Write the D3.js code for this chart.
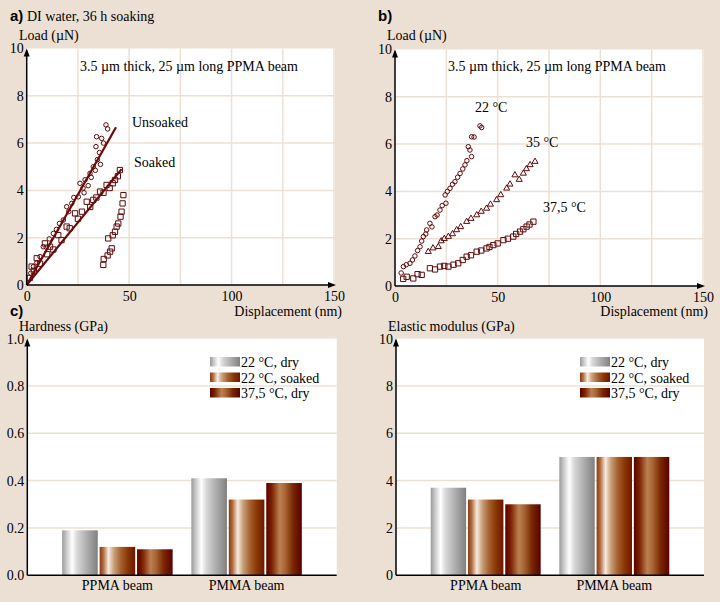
<!DOCTYPE html>
<html><head><meta charset="utf-8">
<script src="https://cdn.jsdelivr.net/npm/d3@7"></script>
<style>
body{margin:0;background:#ECE0D5;}
svg{display:block;}
text{font-family:"Liberation Serif","Times New Roman",serif;font-size:14px;fill:#000;}
</style></head>
<body>
<script>
// ---------- DATA ----------
const dispTicks = [0, 50, 100, 150];
const loadTicks = [0, 2, 4, 6, 8, 10];
const hardTicks = [0, 0.2, 0.4, 0.6, 0.8, 1.0];
const modTicks = [0, 2, 4, 6, 8, 10];

// panel a: displacement (nm), load (uN)
const unsoaked = [[2,0.5],[3.3,0.78],[5,0.95],[6.5,1.2],[8.1,1.62],[9.5,1.6],[11,1.95],[13,2.18],[14.5,2.35],[16,2.6],[17.9,2.75],[19.5,3.31],[20.5,3.1],[22,3.45],[23,3.7],[25.2,3.73],[26,4.3],[27.5,4.1],[28.5,4.45],[30.9,4.72],[31.5,4.55],[32.5,5.0],[33.5,4.85],[34.5,5.3],[33.8,5.85],[35.5,5.6],[36.6,6.2],[34.1,6.27],[37.5,6.0],[38.7,6.77],[39.5,6.6],[36,5.1],[30,4.2],[28,3.9]];
const soaked = [[1.5,0.3],[2.4,0.78],[3.5,0.6],[4.9,1.13],[6.5,0.9],[8.9,1.76],[10,1.3],[11.4,1.62],[13,1.5],[15.4,2.11],[17,1.9],[19.5,2.47],[21,2.4],[23.6,3.03],[25,2.8],[27,3.1],[29.3,3.52],[31,3.3],[32.5,3.6],[34,3.7],[35.8,3.95],[37.5,3.9],[39,4.23],[40.5,4.1],[42,4.3],[43.1,4.44],[44.5,4.6],[45.5,4.86]];
const soakedUnload = [[37.4,0.85],[37.6,1.1],[39.5,1.25],[40.7,1.41],[41.5,1.55],[39.8,1.97],[42,2.1],[43.1,2.25],[43.9,2.47],[44.7,2.6],[45.8,2.89],[46.3,3.1],[46.8,3.45],[47.2,3.8]];
const unsoakedFit = [[0,0],[43.6,6.67]];
const soakedFit = [[0,0],[46.3,4.9]];

// panel b
const t22 = [[3,0.55],[4.1,0.82],[5.5,0.9],[7.3,0.96],[8.5,1.1],[9.7,1.27],[11,1.5],[12.2,1.66],[13,1.9],[13.8,2.09],[15,2.2],[15.4,2.37],[17,2.65],[18,2.5],[19.5,2.93],[20.5,3.0],[21.9,3.21],[23,3.4],[24.8,3.5],[24.4,3.85],[25.5,4.0],[26.8,4.13],[28,4.3],[29.2,4.41],[30.5,4.6],[31.7,4.76],[33,4.95],[34.1,5.12],[35,5.3],[37.3,5.47],[36.5,5.75],[35.7,5.89],[37.3,6.31],[38.5,6.3],[41.4,6.77],[42.2,6.7]];
const t35 = [[16.2,1.45],[18.5,1.6],[21.1,1.66],[22.5,1.9],[24,2.0],[26,2.09],[28,2.2],[30,2.37],[32,2.5],[34.9,2.72],[37,2.85],[39.8,3.0],[42,3.15],[44.6,3.28],[46.5,3.45],[49.5,3.64],[51.5,3.85],[54.4,4.13],[56,4.3],[58.4,4.69],[60.5,4.5],[62.5,4.76],[64,4.95],[65.8,5.12],[68.2,5.26]];
const t375 = [[4,0.3],[5.7,0.39],[8.9,0.32],[11,0.5],[13,0.47],[17,0.75],[19.5,0.7],[21.9,0.82],[24,0.85],[26,0.82],[28.5,0.9],[30.8,0.96],[33,1.1],[34.9,1.24],[37,1.3],[39.8,1.45],[42,1.5],[44.6,1.59],[46,1.65],[47.9,1.73],[50,1.8],[52.8,1.94],[55,2.0],[57.6,2.09],[59,2.2],[60.9,2.3],[62.5,2.4],[64.1,2.51],[65.5,2.6],[67.4,2.72]];

// panels c, d
const beams = ["PPMA beam", "PMMA beam"];
const conditions = ["22 °C, dry", "22 °C, soaked", "37,5 °C, dry"];
const hardness = [[0.19, 0.12, 0.11], [0.41, 0.32, 0.39]];
const modulus = [[3.7, 3.2, 3.0], [5.0, 5.0, 5.0]];

// ---------- DRAW ----------
const W = 720, H = 602;
const FONT = "'Liberation Serif','Times New Roman',serif";
const svg = d3.select("body").append("svg").attr("width", W).attr("height", H);
svg.append("rect").attr("width", W).attr("height", H).attr("fill", "#ECE0D5");
const markColor = "#5E0A0A";
const gridColor = "#ECE0D5";

const defs = svg.append("defs");
function grad(id, stops) {
  const g = defs.append("linearGradient").attr("id", id).attr("x1", 0).attr("x2", 1).attr("y1", 0).attr("y2", 0);
  stops.forEach(s => g.append("stop").attr("offset", s[0]).attr("stop-color", s[1]));
}
grad("g0", [[0,"#9a9a9a"],[0.12,"#c8c8c8"],[0.28,"#ffffff"],[0.42,"#d8d8d8"],[0.62,"#b8b8b8"],[1,"#808080"]]);
grad("g1", [[0,"#8a3a10"],[0.1,"#b06a3a"],[0.25,"#f5ebe0"],[0.4,"#caa07a"],[0.6,"#a4602e"],[0.8,"#8a3400"],[1,"#6a1800"]]);
grad("g2", [[0,"#5a0000"],[0.15,"#7a2000"],[0.38,"#bc8050"],[0.52,"#a86838"],[0.75,"#7a2800"],[1,"#5a0000"]]);
const fills = ["url(#g0)", "url(#g1)", "url(#g2)"];

function arrowUp(g, x, y) {
  g.append("path").attr("d", `M${x},${y} L${x-3},${y+8} L${x+3},${y+8} Z`).attr("fill", "#000");
}
function arrowRight(g, x, y) {
  g.append("path").attr("d", `M${x},${y} L${x-8},${y-3} L${x-8},${y+3} Z`).attr("fill", "#000");
}

function text(x, y, s, opts = {}) {
  const t = svg.append("text").attr("x", x).attr("y", y).text(s);
  if (opts.anchor) t.attr("text-anchor", opts.anchor);
  if (opts.bold) t.attr("font-weight", "bold").style("font-family", "'Liberation Sans',Arial,sans-serif").style("font-size", "15px").attr("fill", "#6B0F0F");
  return t;
}
function styleTicks(sel) {
  sel.select(".domain").remove();
  sel.selectAll("text").style("font-family", FONT).style("font-size", "14px").attr("fill", "#000");
}

function scatterPanel(px0, px1, py0, py1, series) {
  const x = d3.scaleLinear().domain([0, 150]).range([px0, px1]);
  const y = d3.scaleLinear().domain([0, 10]).range([py0, py1]);
  svg.append("rect").attr("x", px0).attr("y", py1).attr("width", px1 - px0 + 1).attr("height", py0 - py1).attr("fill", "#fff");
  const g = svg.append("g");
  g.selectAll(".vg").data(d3.range(25, 151, 25)).join("line")
    .attr("x1", d => x(d)).attr("x2", d => x(d)).attr("y1", py1).attr("y2", py0)
    .attr("stroke", gridColor).attr("stroke-width", 1.5);
  g.selectAll(".hg").data([2, 4, 6, 8]).join("line")
    .attr("x1", px0).attr("x2", px1 + 1).attr("y1", d => y(d)).attr("y2", d => y(d))
    .attr("stroke", gridColor).attr("stroke-width", 1.5);
  series.forEach(s => {
    const sym = d3.symbol().type(s.type).size(s.size);
    g.append("g").selectAll("path").data(s.data).join("path")
      .attr("transform", d => `translate(${x(d[0])},${y(d[1])})`)
      .attr("d", sym).attr("fill", "none").attr("stroke", markColor).attr("stroke-width", 1);
  });
  const ya = svg.append("g").attr("transform", `translate(${px0},0)`)
    .call(d3.axisLeft(y).tickValues(loadTicks).tickSize(0).tickPadding(3).tickFormat(d3.format("d")));
  styleTicks(ya);
  const xa = svg.append("g").attr("transform", `translate(0,${py0})`)
    .call(d3.axisBottom(x).tickValues(dispTicks).tickSize(0).tickPadding(6).tickFormat(d3.format("d")));
  styleTicks(xa);
  svg.append("line").attr("x1", px0).attr("x2", px0).attr("y1", py0).attr("y2", py1 + 2).attr("stroke", "#000").attr("stroke-width", 1.5);
  svg.append("line").attr("x1", px0).attr("x2", px1).attr("y1", py0).attr("y2", py0).attr("stroke", "#000").attr("stroke-width", 1.5);
  arrowUp(svg, px0, py1);
  arrowRight(svg, px1 + 2, py0);
  return {x, y, g};
}

// Panel a
const A = scatterPanel(26.7, 334, 285, 48.5, [
  {data: unsoaked, type: d3.symbolCircle, size: 16},
  {data: soaked, type: d3.symbolSquare, size: 28},
  {data: soakedUnload, type: d3.symbolSquare, size: 28}
]);
const line = d3.line().x(d => A.x(d[0])).y(d => A.y(d[1]));
[unsoakedFit, soakedFit].forEach(f => {
  A.g.append("path").attr("d", line(f)).attr("fill", "none").attr("stroke", "#6B0A0A").attr("stroke-width", 2.2);
});
text(10, 21, "a)", {bold: true});
text(27, 21, "DI water, 36 h soaking");
text(19, 40, "Load (µN)");
text(80, 71, "3.5 µm thick, 25 µm long PPMA beam");
text(132, 127, "Unsoaked");
text(134, 167, "Soaked");
text(342, 316, "Displacement (nm)", {anchor: "end"});

// Panel b
scatterPanel(395, 703, 286, 49.5, [
  {data: t22, type: d3.symbolCircle, size: 16},
  {data: t35, type: d3.symbolTriangle, size: 16},
  {data: t375, type: d3.symbolSquare, size: 28}
]);
text(378, 21, "b)", {bold: true});
text(387, 40, "Load (µN)");
text(448, 71, "3.5 µm thick, 25 µm long PPMA beam");
text(475, 112, "22 °C");
text(526, 147, "35 °C");
text(543, 212, "37,5 °C");
text(708, 316, "Displacement (nm)", {anchor: "end"});

// Bar panels
function barPanel(px0, px1, py0, py1, vals, ticks, fmt, legendX) {
  const max = ticks[ticks.length - 1];
  const x0 = d3.scaleBand().domain(beams).range([px0, px1]).paddingInner(0.145).paddingOuter(0.27);
  const x1 = d3.scaleBand().domain(conditions).range([0, x0.bandwidth()]).paddingInner(0.05);
  const y = d3.scaleLinear().domain([0, max]).range([py0, py1]);
  svg.append("rect").attr("x", px0).attr("y", py1).attr("width", px1 - px0).attr("height", py0 - py1).attr("fill", "#fff");
  svg.append("g").selectAll("line").data(ticks.slice(1, -1)).join("line")
    .attr("x1", px0).attr("x2", px1).attr("y1", d => y(d)).attr("y2", d => y(d))
    .attr("stroke", gridColor).attr("stroke-width", 1.5);
  beams.forEach((b, i) => {
    svg.append("g").selectAll("rect").data(vals[i]).join("rect")
      .attr("x", (d, j) => x0(b) + x1(conditions[j]))
      .attr("width", x1.bandwidth())
      .attr("y", d => y(d)).attr("height", d => py0 - y(d))
      .attr("fill", (d, j) => fills[j]);
  });
  const ya = svg.append("g").attr("transform", `translate(${px0},0)`)
    .call(d3.axisLeft(y).tickValues(ticks).tickSize(0).tickPadding(3).tickFormat(fmt));
  styleTicks(ya);
  const xa = svg.append("g").attr("transform", `translate(0,${py0})`)
    .call(d3.axisBottom(x0).tickSize(0).tickPadding(5));
  styleTicks(xa);
  svg.append("line").attr("x1", px0).attr("x2", px0).attr("y1", py0).attr("y2", py1 + 2).attr("stroke", "#000").attr("stroke-width", 1.5);
  svg.append("line").attr("x1", px0).attr("x2", px1).attr("y1", py0).attr("y2", py0).attr("stroke", "#000").attr("stroke-width", 1.5);
  arrowUp(svg, px0, py1);
  const lg = svg.append("g");
  conditions.forEach((c, i) => {
    const yy = 357 + i * 15.5;
    lg.append("rect").attr("x", legendX).attr("y", yy).attr("width", 30).attr("height", 9.5).attr("fill", fills[i]);
    lg.append("text").attr("x", legendX + 31).attr("y", yy + 10).text(c);
  });
}
barPanel(27.3, 336.7, 575.3, 338.6, hardness, hardTicks, d3.format(".1f"), 210);
text(10, 316, "c)", {bold: true});
text(19, 331, "Hardness (GPa)");
barPanel(396, 704, 575.3, 338.6, modulus, modTicks, d3.format("d"), 580);
text(388, 331, "Elastic modulus (GPa)");
</script>
</body></html>
